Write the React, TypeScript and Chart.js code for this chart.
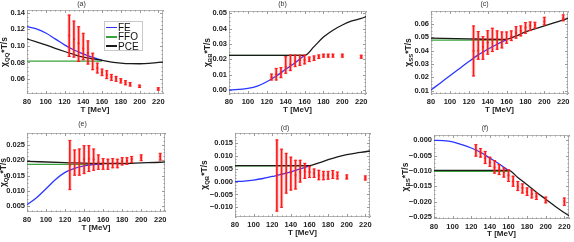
import React, { useEffect, useRef } from "react";
import { Chart, registerables } from "chart.js";
Chart.register(...registerables);

const FONT = "'Liberation Sans', Arial, sans-serif";
const RED = "#ff1a1a";
const BLUE = "#2a35ff";
const GREEN = "#3aa23a";
const BLACK = "#1a1a1a";

// ---------- common ----------
const latticeT = [125, 130, 135, 140, 145, 150, 155, 160, 165, 170, 175, 180, 185, 190, 200, 220];
const xTicks = [80, 100, 120, 140, 160, 180, 200, 220];
const feT = [80, 90, 100, 110, 120, 130, 140, 150, 160];
const ffoT = [80, 160];

// ---------- (a) QQ ----------
const qqC = [0.1124, 0.108, 0.1032, 0.0968, 0.0912, 0.084, 0.0732, 0.068, 0.0648, 0.0624, 0.0608, 0.0584, 0.0556, 0.0536, 0.0512, 0.048];
const qqLo = [0.0872, 0.0864, 0.0812, 0.0832, 0.078, 0.0712, 0.0672, 0.064, 0.0604, 0.0584, 0.0572, 0.0552, 0.053, 0.0515, 0.0497, 0.0465];
const qqHi = [0.1372, 0.13, 0.1232, 0.1152, 0.106, 0.0912, 0.0792, 0.072, 0.07, 0.0656, 0.0632, 0.0604, 0.058, 0.0557, 0.0527, 0.0495];
const qqFE = [0.1232, 0.1205, 0.1155, 0.1085, 0.1012, 0.095, 0.0904, 0.0862, 0.0825];
const qqFFO = [0.0815, 0.0815];
const qqPceT = [80, 90, 100, 110, 120, 130, 140, 150, 160, 170, 180, 190, 200, 210, 220, 225];
const qqPCE = [0.1084, 0.1048, 0.1012, 0.097, 0.0932, 0.0896, 0.0864, 0.0842, 0.0825, 0.0805, 0.0792, 0.0785, 0.0784, 0.0788, 0.08, 0.0805];
const qqTicks = [0.06, 0.08, 0.1, 0.12, 0.14];

// ---------- (b) BB ----------
const bbC = [0.0083, 0.0104, 0.0113, 0.0152, 0.0167, 0.0185, 0.0196, 0.0196, 0.02, 0.0207, 0.0217, 0.0224, 0.0224, 0.0224, 0.0224, 0.0217];
const bbLo = [0.0065, 0.0065, 0.008, 0.0109, 0.0126, 0.0152, 0.016, 0.017, 0.0185, 0.0192, 0.0205, 0.0214, 0.0214, 0.0214, 0.0214, 0.0207];
const bbHi = [0.0104, 0.0141, 0.0146, 0.0217, 0.0228, 0.0228, 0.0228, 0.0228, 0.0215, 0.0222, 0.0229, 0.0234, 0.0234, 0.0234, 0.0234, 0.0227];
const bbFE = [0.0, 0.0004, 0.0011, 0.0026, 0.0054, 0.0091, 0.0135, 0.0178, 0.0226];
const bbFFO = [0.0226, 0.0226];
const bbPceT = [80, 160, 170, 180, 190, 200, 210, 220, 225];
const bbPCE = [0.0226, 0.0226, 0.0283, 0.0345, 0.039, 0.0424, 0.045, 0.0467, 0.0478];
const bbTicks = [0, 0.01, 0.02, 0.03, 0.04, 0.05];

// ---------- (c) SS ----------
const ssC = [0.0398, 0.04, 0.043, 0.046, 0.0485, 0.0485, 0.048, 0.0485, 0.0505, 0.0535, 0.0548, 0.0573, 0.0588, 0.0595, 0.0618, 0.0643];
const ssLo = [0.021, 0.0335, 0.0335, 0.0373, 0.0393, 0.041, 0.042, 0.0455, 0.0475, 0.0493, 0.051, 0.053, 0.055, 0.0568, 0.0593, 0.0623];
const ssHi = [0.0585, 0.0543, 0.0505, 0.055, 0.0568, 0.0548, 0.054, 0.054, 0.0548, 0.058, 0.0585, 0.061, 0.0615, 0.0613, 0.065, 0.0668];
const ssFE = [0.0105, 0.0158, 0.0212, 0.0265, 0.0318, 0.0368, 0.041, 0.0448, 0.0483];
const ssFFO = [0.0478, 0.0478];
const ssPceT = [80, 120, 160, 170, 180, 190, 200, 210, 220, 225];
const ssPCE = [0.0493, 0.0488, 0.0485, 0.051, 0.054, 0.0563, 0.0585, 0.0608, 0.063, 0.0642];
const ssTicks = [0.01, 0.02, 0.03, 0.04, 0.05, 0.06];

// ---------- (e) QS ----------
const qsC = [0.0184, 0.0192, 0.0192, 0.0203, 0.0205, 0.0202, 0.0193, 0.0189, 0.0186, 0.0189, 0.0191, 0.0196, 0.0198, 0.0203, 0.0208, 0.0212];
const qsLo = [0.0104, 0.0151, 0.0151, 0.0156, 0.0163, 0.0167, 0.017, 0.017, 0.017, 0.0175, 0.0175, 0.0184, 0.0186, 0.0192, 0.0198, 0.02];
const qsHi = [0.0264, 0.0233, 0.0236, 0.0247, 0.0247, 0.0236, 0.0217, 0.0205, 0.0203, 0.0205, 0.0203, 0.0208, 0.0208, 0.0212, 0.0217, 0.0222];
const qsFE = [0.0055, 0.0078, 0.0107, 0.0137, 0.016, 0.0173, 0.0181, 0.0185, 0.0188];
const qsFFO = [0.0186, 0.0186];
const qsPceT = [80, 120, 160, 180, 200, 220, 225];
const qsPCE = [0.0196, 0.0192, 0.0189, 0.0189, 0.0191, 0.0193, 0.0194];
const qsTicks = [0.005, 0.01, 0.015, 0.02, 0.025];

// ---------- (d) QB ----------
const qbC = [0.0024, 0.003, 0.0034, 0.0034, 0.0024, 0.0037, 0.004, 0.0037, 0.0032, 0.0024, 0.0024, 0.0024, 0.0028, 0.0022, 0.0016, 0.0013];
const qbLo = [-0.0115, -0.01, -0.0045, -0.0033, -0.0029, -0.0002, 0.0012, 0.0016, 0.0016, 0.0007, 0.0007, 0.0009, 0.0012, 0.001, 0.001, 0.0006];
const qbHi = [0.0162, 0.0126, 0.011, 0.0095, 0.0083, 0.0083, 0.0071, 0.0059, 0.0049, 0.0044, 0.004, 0.004, 0.0043, 0.0037, 0.0026, 0.0022];
const qbFE = [0.0, 0.0002, 0.0006, 0.0012, 0.002, 0.0028, 0.0038, 0.0049, 0.0061];
const qbFFO = [0.0061, 0.0061];
const qbPceT = [80, 160, 170, 180, 190, 200, 210, 220, 225];
const qbPCE = [0.0062, 0.0062, 0.0073, 0.0085, 0.0096, 0.0105, 0.0111, 0.0116, 0.0119];
const qbTicks = [-0.01, -0.005, 0, 0.005, 0.01, 0.015];

// ---------- (f) BS ----------
const bsC = [-0.0033, -0.0041, -0.0058, -0.0072, -0.0088, -0.0096, -0.0104, -0.0114, -0.0134, -0.015, -0.0155, -0.0168, -0.0175, -0.0183, -0.0196, -0.0199];
const bsLo = [-0.0052, -0.0055, -0.0076, -0.0085, -0.0107, -0.0112, -0.012, -0.0134, -0.015, -0.0164, -0.0172, -0.018, -0.0188, -0.0193, -0.0204, -0.0212];
const bsHi = [-0.0014, -0.0027, -0.0036, -0.0055, -0.0066, -0.0079, -0.009, -0.0096, -0.0117, -0.0134, -0.0142, -0.0155, -0.0161, -0.0172, -0.0185, -0.0188];
const bsFE = [0.0, -0.0001, -0.0005, -0.0014, -0.0025, -0.0039, -0.0058, -0.0077, -0.0099];
const bsFFO = [-0.0101, -0.0101];
const bsPceT = [80, 160, 170, 180, 190, 200, 210, 220, 225];
const bsPCE = [-0.0098, -0.0098, -0.0121, -0.0145, -0.0169, -0.0192, -0.0215, -0.0236, -0.0246];
const bsTicks = [-0.025, -0.02, -0.015, -0.01, -0.005, 0];

type PanelCfg = {
  title: string; sub: string;
  c: number[]; lo: number[]; hi: number[];
  fe: number[]; ffo: number[]; pceT: number[]; pce: number[];
  yTicks: number[]; dec: number; yMin: number; yMax: number;
  left: number; top: number; yw: number; topH: number; fw: number; fh: number; xh: number; padR: number;
  titleY: number; yTitleOff: number;
};

const panels: PanelCfg[] = [
  { title: "(a)", sub: "QQ", c: qqC, lo: qqLo, hi: qqHi, fe: qqFE, ffo: qqFFO, pceT: qqPceT, pce: qqPCE, yTicks: qqTicks, dec: 2, yMin: 0.0419, yMax: 0.1433,
    left: 0, top: 0, yw: 27, topH: 10, fw: 136, fh: 84, xh: 24, padR: 8, titleY: 4, yTitleOff: 22 },
  { title: "(b)", sub: "BB", c: bbC, lo: bbLo, hi: bbHi, fe: bbFE, ffo: bbFFO, pceT: bbPceT, pce: bbPCE, yTicks: bbTicks, dec: 2, yMin: -0.0026, yMax: 0.0515,
    left: 199, top: 0, yw: 30, topH: 11, fw: 137, fh: 83, xh: 24, padR: 8, titleY: 4, yTitleOff: 21 },
  { title: "(c)", sub: "SS", c: ssC, lo: ssLo, hi: ssHi, fe: ssFE, ffo: ssFFO, pceT: ssPceT, pce: ssPCE, yTicks: ssTicks, dec: 2, yMin: 0.0075, yMax: 0.0697,
    left: 401, top: 0, yw: 30, topH: 11, fw: 137, fh: 83, xh: 24, padR: 6, titleY: 4, yTitleOff: 22 },
  { title: "(e)", sub: "QS", c: qsC, lo: qsLo, hi: qsHi, fe: qsFE, ffo: qsFFO, pceT: qsPceT, pce: qsPCE, yTicks: qsTicks, dec: 3, yMin: 0.00315, yMax: 0.0288,
    left: 0, top: 121, yw: 27, topH: 12, fw: 138, fh: 79, xh: 24, padR: 8, titleY: 124, yTitleOff: 23 },
  { title: "(d)", sub: "QB", c: qbC, lo: qbLo, hi: qbHi, fe: qbFE, ffo: qbFFO, pceT: qbPceT, pce: qbPCE, yTicks: qbTicks, dec: 3, yMin: -0.01377, yMax: 0.01889,
    left: 200, top: 121, yw: 35, topH: 12, fw: 135, fh: 84, xh: 24, padR: 8, titleY: 128, yTitleOff: 30 },
  { title: "(f)", sub: "BS", c: bsC, lo: bsLo, hi: bsHi, fe: bsFE, ffo: bsFFO, pceT: bsPceT, pce: bsPCE, yTicks: bsTicks, dec: 3, yMin: -0.02565, yMax: 0.00173,
    left: 400, top: 122, yw: 34, topH: 13, fw: 136, fh: 84, xh: 23, padR: 4, titleY: 128, yTitleOff: 28 },
];

function fmt(v: number, d: number) {
  const s = Math.abs(v) < 1e-12 ? (0).toFixed(d) : v.toFixed(d);
  return s.replace("-", "\u2212");
}

function Panel({ p }: { p: PanelCfg }) {
  const ref = useRef<HTMLCanvasElement>(null);
  const w = p.yw + p.fw + p.padR;
  const h = p.topH + p.fh + p.xh;
  useEffect(() => {
    const pt = Math.max(0, p.titleY - p.top - 3.5);
    const pb = Math.max(0, p.topH - 7 - pt);
    const framePlugin = {
      id: "frame" + p.title,
      beforeDatasetsDraw(chart: any) {
        const { ctx, chartArea: a, scales } = chart;
        ctx.save();
        ctx.strokeStyle = "#b4b4b4";
        ctx.lineWidth = 1;
        ctx.strokeRect(a.left + 0.5, a.top + 0.5, a.right - a.left - 1, a.bottom - a.top - 1);
        ctx.strokeStyle = "#9a9a9a";
        const line = (x1: number, y1: number, x2: number, y2: number) => {
          ctx.beginPath(); ctx.moveTo(x1, y1); ctx.lineTo(x2, y2); ctx.stroke();
        };
        const xs = scales.x;
        for (let v = 80; v <= 225; v += 5) {
          const px = Math.round(xs.getPixelForValue(v)) + 0.5;
          const len = v % 20 === 0 ? 3 : 1.5;
          line(px, a.bottom, px, a.bottom - len);
          line(px, a.top, px, a.top + len);
        }
        const ys = scales.y;
        const step = p.yTicks[1] - p.yTicks[0];
        const minor = step / 4;
        const start = Math.ceil(p.yMin / minor - 1e-6);
        const end = Math.floor(p.yMax / minor + 1e-6);
        for (let k = start; k <= end; k++) {
          const v = k * minor;
          const py = Math.round(ys.getPixelForValue(v)) + 0.5;
          const major = Math.abs(k % 4) === 0;
          const len = major ? 3 : 1.5;
          line(a.left, py, a.left + len, py);
          line(a.right, py, a.right - len, py);
        }
        ctx.restore();
      },
      afterDraw(chart: any) {
        const { ctx, chartArea: a } = chart;
        ctx.save();
        ctx.translate(a.left - p.yTitleOff, (a.top + a.bottom) / 2);
        ctx.rotate(-Math.PI / 2);
        ctx.fillStyle = "#222";
        ctx.textBaseline = "middle";
        const f1 = `bold 8.5px ${FONT}`;
        const f2 = `bold 6px ${FONT}`;
        ctx.font = f1; const w1 = ctx.measureText("\u03c7").width;
        ctx.font = f2; const w2 = ctx.measureText(p.sub).width;
        ctx.font = f1; const w3 = ctx.measureText("*T/s").width;
        let x = -(w1 + w2 + w3) / 2;
        ctx.font = f1; ctx.fillText("\u03c7", x, 0); x += w1;
        ctx.font = f2; ctx.fillText(p.sub, x, 2); x += w2;
        ctx.font = f1; ctx.fillText("*T/s", x, 0);
        ctx.restore();
      },
    };
    const pts = (xs: number[], ys: number[]) => xs.map((x, i) => ({ x, y: ys[i] }));
    const chart = new Chart(ref.current as HTMLCanvasElement, {
      type: "scatter",
      data: {
        datasets: [
          { type: "line", label: "FFO", data: pts(ffoT, p.ffo), borderColor: GREEN, borderWidth: 1.3, pointRadius: 0, order: 5 } as any,
          { type: "line", label: "FE", data: pts(feT, p.fe), borderColor: BLUE, borderWidth: 1.3, pointRadius: 0, cubicInterpolationMode: "monotone", order: 4 } as any,
          { type: "line", label: "PCE", data: pts(p.pceT, p.pce), borderColor: BLACK, borderWidth: 1.3, pointRadius: 0, cubicInterpolationMode: "monotone", order: 3 } as any,
          { type: "bar", label: "band", data: latticeT.map((t, i) => ({ x: t, y: [p.lo[i], p.hi[i]] })), backgroundColor: "rgba(255,60,60,0.22)", barThickness: 3, grouped: false, borderWidth: 0, order: 2 } as any,
          { type: "bar", label: "err", data: latticeT.map((t, i) => ({ x: t, y: [p.lo[i], p.hi[i]] })), backgroundColor: RED, barThickness: 1, grouped: false, borderWidth: 0, order: 1 } as any,
          { type: "scatter", label: "caps", data: latticeT.flatMap((t, i) => [{ x: t, y: p.lo[i] }, { x: t, y: p.hi[i] }]), pointStyle: "line", pointRadius: 1.5, borderColor: RED, borderWidth: 1, order: 1 } as any,
          { type: "scatter", label: "lattice", data: pts(latticeT, p.c), pointStyle: "rect", pointRadius: 1.3, backgroundColor: RED, borderColor: RED, borderWidth: 0, order: 0 } as any,
        ],
      },
      options: {
        animation: false,
        responsive: false,
        maintainAspectRatio: false,
        layout: { padding: { top: 0, right: p.padR, bottom: 0, left: 0 } },
        plugins: {
          legend: { display: false },
          tooltip: { enabled: false },
          title: {
            display: true, text: p.title, color: "#333",
            font: { size: 7, family: FONT, weight: "normal", lineHeight: 1 },
            padding: { top: pt, bottom: pb },
          },
        },
        scales: {
          x: {
            type: "linear", min: 80, max: 225, offset: false,
            grid: { display: false, drawTicks: false },
            border: { display: false },
            ticks: { font: { size: 7.5, family: FONT, weight: "bold" }, color: "#222", padding: 3, maxRotation: 0, callback: (v: any) => String(v) },
            afterBuildTicks: (s: any) => { s.ticks = xTicks.map((v) => ({ value: v })); },
            afterFit: (s: any) => { s.height = p.xh; },
            title: { display: true, text: "T [MeV]", color: "#222", font: { size: 8, family: FONT, weight: "bold" }, padding: { top: 0, bottom: 3 } },
          },
          y: {
            type: "linear", min: p.yMin, max: p.yMax,
            grid: { display: false, drawTicks: false },
            border: { display: false },
            ticks: { font: { size: 7.5, family: FONT, weight: "bold" }, color: "#222", padding: 2, callback: (v: any) => fmt(Number(v), p.dec) },
            afterBuildTicks: (s: any) => { s.ticks = p.yTicks.map((v) => ({ value: v })); },
            afterFit: (s: any) => { s.width = p.yw; },
          },
        },
      } as any,
      plugins: [framePlugin],
    });
    return () => chart.destroy();
  }, []);
  return (
    <canvas
      ref={ref}
      width={w}
      height={h}
      style={{ position: "absolute", left: p.left, top: p.top, width: w, height: h }}
    />
  );
}

const legendItems = [
  { name: "FE", color: BLUE },
  { name: "FFO", color: GREEN },
  { name: "PCE", color: BLACK },
];

export default function App() {
  return (
    <div style={{ position: "fixed", left: 0, top: 0, width: 574, height: 242, background: "#fff", overflow: "hidden" }}>
      {panels.map((p) => (
        <Panel key={p.title} p={p} />
      ))}
      <div
        style={{
          position: "absolute", left: 104, top: 21, width: 39, height: 30, boxSizing: "border-box",
          border: "1px solid #c8c8c8", background: "#fff", padding: "1px 0 0 1px",
          fontFamily: FONT, fontSize: 10, lineHeight: "9.3px", color: "#111",
        }}
      >
        {legendItems.map((it) => (
          <div key={it.name} style={{ display: "flex", alignItems: "center", height: 9.3 }}>
            <span style={{ display: "inline-block", width: 11, height: 1.5, background: it.color, marginRight: 1 }} />
            <span>{it.name}</span>
          </div>
        ))}
      </div>
    </div>
  );
}
